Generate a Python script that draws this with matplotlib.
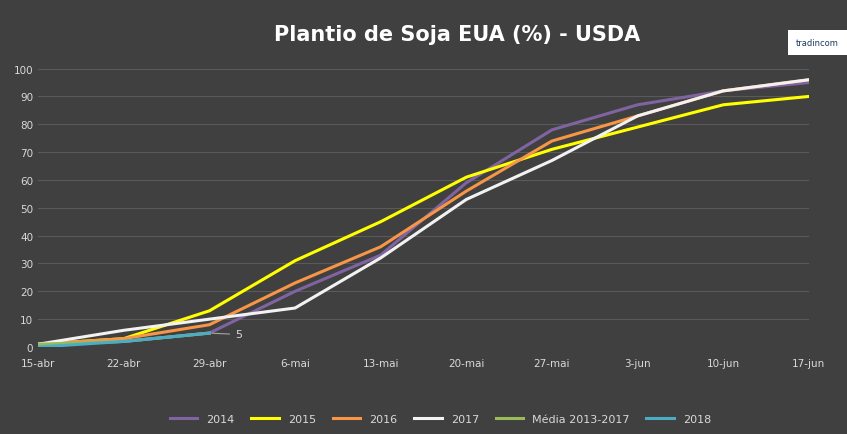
import matplotlib
matplotlib.use('Agg')
import matplotlib.pyplot as plt

dates = ['15-abr', '22-abr', '29-abr', '6-mai', '13-mai', '20-mai', '27-mai', '3-jun', '10-jun', '17-jun']
y2014 = [1, 2, 5, 20, 33, 59, 78, 87, 92, 95]
y2015 = [1, 3, 13, 31, 45, 61, 71, 79, 87, 90]
y2016 = [1, 3, 8, 23, 36, 56, 74, 83, 92, 96]
y2017 = [1, 6, 10, 14, 32, 53, 67, 83, 92, 96]
media = [1, 2, 5]
y2018 = [0, 2, 5]

fig = plt.figure(figsize=(8.47, 4.35), dpi=100)
fig.patch.set_facecolor('#404040')
ax = fig.add_axes([0.045, 0.2, 0.91, 0.64])
ax.set_facecolor('#404040')

x = list(range(len(dates)))
ax.plot(x, y2014, color='#8064a2', lw=2.2, label='2014')
ax.plot(x, y2015, color='#ffff00', lw=2.2, label='2015')
ax.plot(x, y2016, color='#f79646', lw=2.2, label='2016')
ax.plot(x, y2017, color='#f2f2f2', lw=2.2, label='2017')
ax.plot(x[:3], media, color='#9bbb59', lw=2.2, label='Média 2013-2017')
ax.plot(x[:3], y2018, color='#4bacc6', lw=2.2, label='2018')
ax.annotate('5', xy=(2, y2018[2]), xytext=(2.3, y2018[2] - 0.5), color='#d9d9d9',
            fontsize=8, va='center', arrowprops=dict(arrowstyle='-', color='#a6a6a6', lw=0.8))

ax.set_ylim(0, 100)
ax.set_xlim(0, 9)
ax.set_yticks(range(0, 101, 10))
ax.set_xticks(x)
ax.set_xticklabels(dates)
ax.grid(axis='y', color='#5a5a5a', lw=0.8)
ax.tick_params(colors='#d9d9d9', labelsize=7.5, length=0)
ax.tick_params(axis='x', pad=8)
for s in ax.spines.values():
    s.set_visible(False)
ax.set_axisbelow(True)

fig.text(0.54, 0.92, 'Plantio de Soja EUA (%) - USDA', ha='center', va='center',
         color='white', fontsize=15, fontweight='bold')
fig.text(0.965, 0.9, 'tradincom', ha='center', va='center', color='#1f3864',
         fontsize=6, bbox=dict(facecolor='white', edgecolor='none', pad=6))
fig.legend(loc='lower center', bbox_to_anchor=(0.52, 0.0), ncol=6, frameon=False,
           labelcolor='#d9d9d9', fontsize=8, handlelength=2.5, columnspacing=1.5)
fig.savefig('out.png', facecolor=fig.get_facecolor())
